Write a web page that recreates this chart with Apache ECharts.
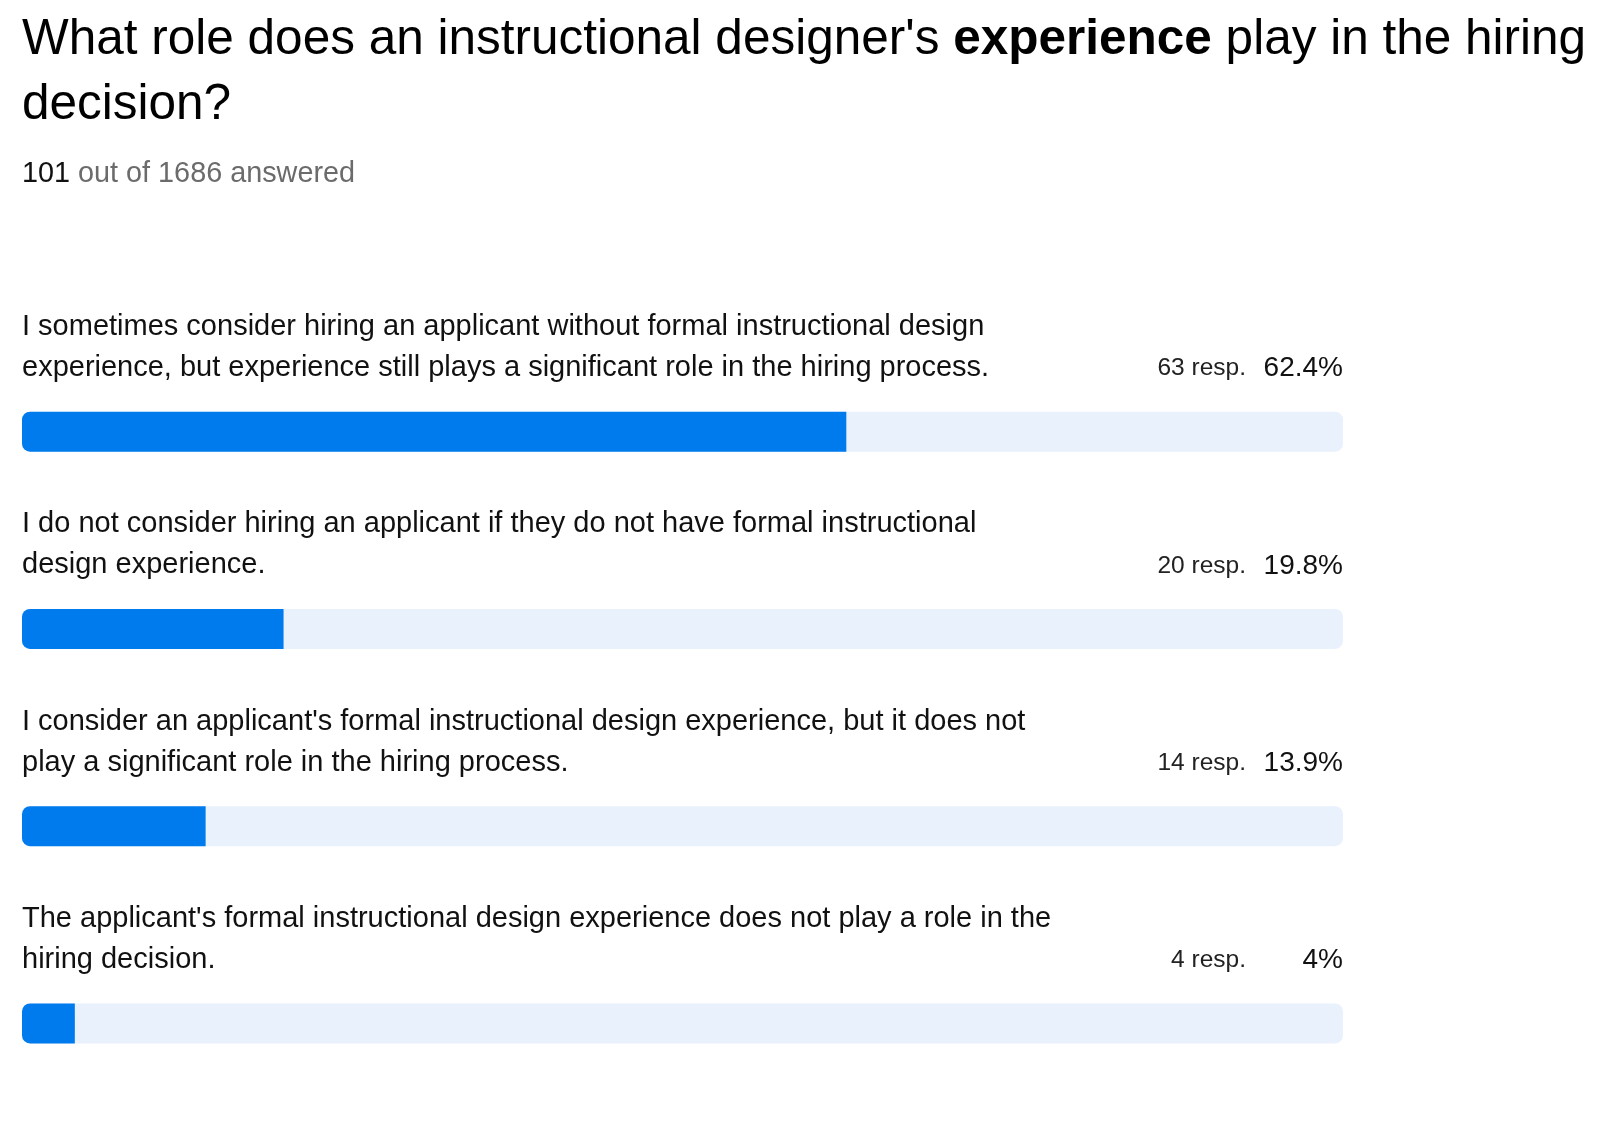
<!DOCTYPE html>
<html>
<head>
<meta charset="utf-8">
<title>Instructional designer experience</title>
<script src="https://cdn.jsdelivr.net/npm/echarts@6/dist/echarts.min.js"></script>
<style>
  html, body { margin: 0; padding: 0; background: #fff; }
  #chart { width: 1600px; height: 1122px; }
</style>
</head>
<body>
<div id="chart"></div>
<script>
// survey answers, line breaks as in the original
var answers = [
    "I sometimes consider hiring an applicant without formal instructional design\nexperience, but experience still plays a significant role in the hiring process.",
    "I do not consider hiring an applicant if they do not have formal instructional\ndesign experience.",
    "I consider an applicant's formal instructional design experience, but it does not\nplay a significant role in the hiring process.",
    "The applicant's formal instructional design experience does not play a role in the\nhiring decision."
];
var responses = [63, 20, 14, 4];
var percents = [62.4, 19.8, 13.9, 4];
var answered = 101;
var total = 1686;

var FONT = '"Liberation Sans", Arial, Helvetica, sans-serif';
var chart = echarts.init(document.getElementById('chart'));

var option = {
    backgroundColor: '#fff',
    animation: false,
    title: [{
        text: "What role does an instructional designer's {b|experience} play in the hiring\ndecision?",
        left: 22,
        top: 8,
        padding: 0,
        textStyle: {
            fontFamily: FONT, fontSize: 49.5, fontWeight: 'normal', color: '#000', lineHeight: 65,
            rich: {
                b: { fontFamily: FONT, fontSize: 49.5, fontWeight: 'bold', color: '#000', lineHeight: 65 }
            }
        }
    }, {
        text: '{n|' + answered + '} out of ' + total + ' answered',
        left: 22,
        top: 156,
        padding: 0,
        textStyle: {
            fontFamily: FONT, fontSize: 28.8, fontWeight: 'normal', color: '#6b6b6b', lineHeight: 36,
            rich: {
                n: { fontFamily: FONT, fontSize: 28.8, color: '#111', lineHeight: 36 }
            }
        }
    }],
    grid: { left: 22, right: 257, top: 333, height: 793 },
    xAxis: { type: 'value', min: 0, max: 100, show: false },
    yAxis: [{
        type: 'category', data: answers, inverse: true, show: false
    }, {
        type: 'category', data: answers, inverse: true, position: 'right',
        axisLine: { show: false }, axisTick: { show: false }, splitLine: { show: false },
        axisLabel: {
            inside: true,
            margin: 0,
            verticalAlign: 'bottom',
            padding: [0, 0, 46, 0],
            formatter: function (v, i) {
                return '{r|' + responses[i] + ' resp.}{p|' + percents[i] + '%}';
            },
            rich: {
                r: { fontFamily: FONT, fontSize: 24.5, color: '#222', lineHeight: 34 },
                p: { fontFamily: FONT, fontSize: 28, color: '#111', lineHeight: 34, width: 97, align: 'right' }
            }
        }
    }],
    series: [{
        type: 'bar',
        data: percents,
        barWidth: 40,
        silent: true,
        showBackground: true,
        backgroundStyle: { color: '#E9F1FD', borderRadius: 8 },
        itemStyle: { color: '#007BED', borderRadius: [8, 0, 0, 8] },
        label: {
            show: true,
            position: [0, -23],
            align: 'left',
            verticalAlign: 'bottom',
            formatter: '{b}',
            fontFamily: FONT,
            fontSize: 29,
            lineHeight: 41,
            color: '#111'
        }
    }]
};
chart.setOption(option);
</script>
</body>
</html>
